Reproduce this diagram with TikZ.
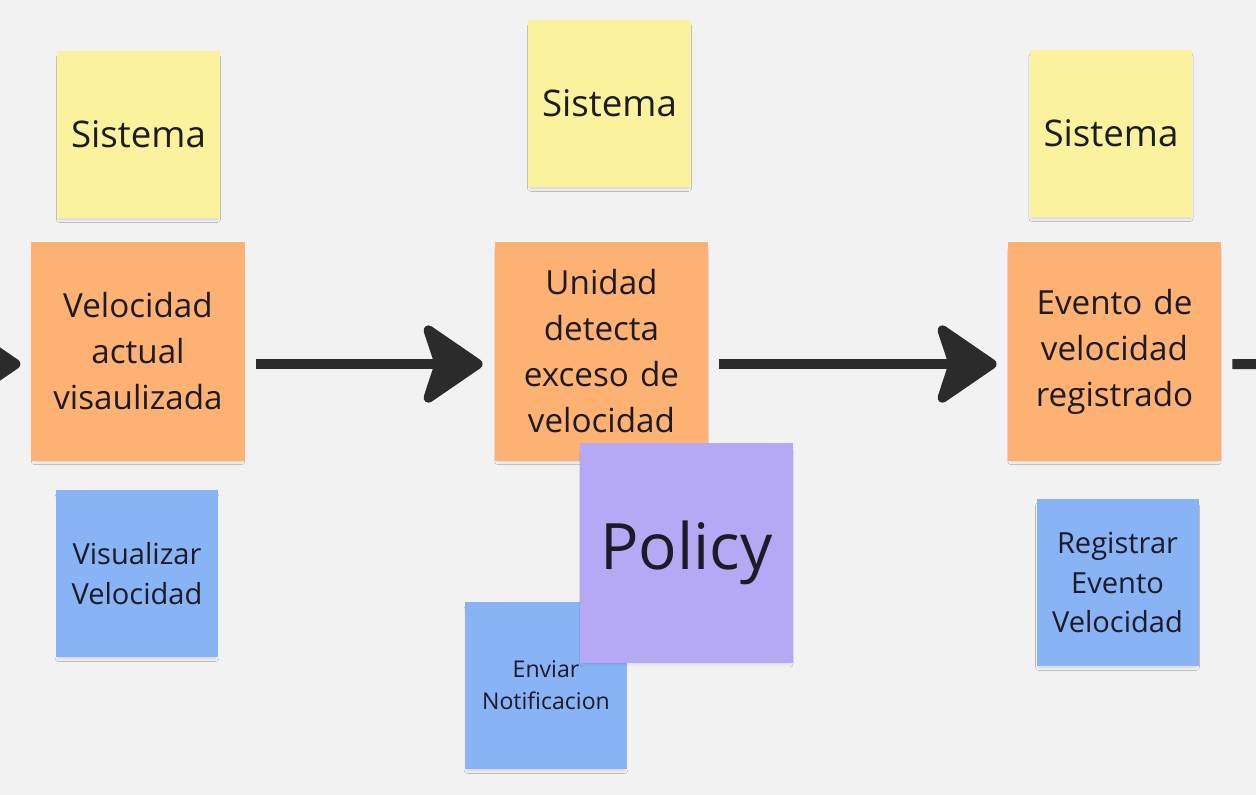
\documentclass[tikz,border=0pt]{standalone}
\usepackage{fontspec}
\setmainfont{Open Sans}
\usetikzlibrary{arrows.meta,shadows.blur}
\definecolor{bgc}{HTML}{F2F2F2}
\definecolor{yel}{HTML}{FAF29C}
\definecolor{ora}{HTML}{FDB274}
\definecolor{blu}{HTML}{88B3F5}
\definecolor{pur}{HTML}{B5A9F6}
\definecolor{arr}{HTML}{2B2B2B}
\definecolor{txt}{HTML}{1C1B26}
\begin{document}
\begin{tikzpicture}[x=0.75pt,y=-0.75pt,
  sticky/.style={inner sep=0pt,align=center,text=txt,
    blur shadow={shadow xshift=0pt,shadow yshift=-3pt,shadow scale=0.97,shadow blur steps=6,shadow opacity=14,shadow blur radius=2.5pt}},
  ysys/.style={sticky,fill=yel,minimum width=122pt,minimum height=125pt,font=\fontsize{27.5}{32}\selectfont},
  oev/.style={sticky,fill=ora,minimum width=160pt,minimum height=164pt,text width=150pt,font=\fontsize{24.9}{34.5}\selectfont},
  bcmd/.style={sticky,fill=blu,minimum width=121.5pt,minimum height=125pt,text width=115pt,font=\fontsize{21.8}{29.5}\selectfont},
  ppol/.style={sticky,fill=pur,minimum width=160pt,minimum height=165pt,font=\fontsize{48}{52}\selectfont},
  conn/.style={draw=arr,line width=7.5pt,-{Stealth[length=50pt,width=68pt,inset=11pt,round]}},
  stub/.style={draw=arr,line width=7.5pt}]
\clip (0,0) rectangle (1256,795);
\fill[bgc] (0,0) rectangle (1256,795);

\node[ysys] (s1) at (138.5,134.5) {Sistema};
\node[ysys] (s2) at (609.5,103.5) {Sistema};
\node[ysys] (s3) at (1111,133.5) {Sistema};

\node[oev] (o1) at (138,351.5) {Velocidad\\actual\\visaulizada};
\node[oev] (o2) at (601.5,351.5) {Unidad\\detecta\\exceso de\\velocidad};
\node[oev] (o3) at (1114.5,351.5) {Evento de\\velocidad\\registrado};

\node[bcmd] (b1) at (137,573.5) {Visualizar\\Velocidad};
\node[bcmd,font=\fontsize{17.3}{24}\selectfont] (b2) at (546,685.5) {Enviar\\Notificacion};
\node[bcmd] (b3) at (1117.5,582.5) {Registrar\\Evento\\Velocidad};

\node[ppol] (p) at (686.5,553) {Policy};

\coordinate (lin) at (-80,364);
\coordinate (rout) at (1330,364);
\draw[conn,shorten >=8pt] (lin) -- ([yshift=-9.4pt]o1.west);
\draw[conn,shorten <=8.25pt,shorten >=9pt] ([yshift=-9.4pt]o1.east) -- ([yshift=-9.4pt]o2.west);
\draw[conn,shorten <=8.25pt,shorten >=8.25pt] ([yshift=-9.4pt]o2.east) -- ([yshift=-9.4pt]o3.west);
\draw[stub,shorten <=8.25pt] ([yshift=-9.4pt]o3.east) -- (rout);
\end{tikzpicture}
\end{document}
